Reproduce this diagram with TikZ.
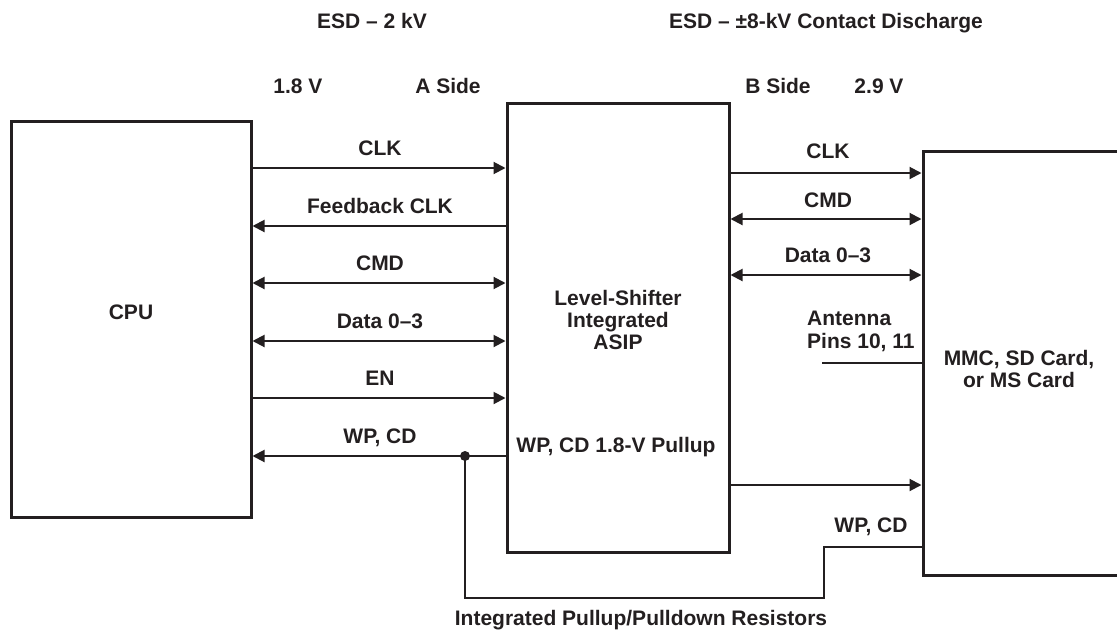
\documentclass[tikz,border=0pt]{standalone}
\usepackage{fontspec}
\setmainfont{Liberation Sans}
\usetikzlibrary{arrows.meta}
\definecolor{ink}{RGB}{35,31,32}
\tikzset{
  lbl/.style={font=\fontsize{21}{22}\selectfont\bfseries, inner sep=0pt, align=center, text=ink},
  box/.style={draw=ink, line width=3pt, inner sep=0pt, outer sep=1.5pt, rectangle},
  wire/.style={line width=2pt, draw=ink},
  arr/.style={wire, -{Triangle[length=12pt,width=12pt]}},
  darr/.style={wire, {Triangle[length=12pt,width=12pt]}-{Triangle[length=12pt,width=12pt]}},
}
\begin{document}
\begin{tikzpicture}[x=1pt,y=-1pt]
\useasboundingbox (0,0) rectangle (1117,630);
\clip (0,0) rectangle (1117,630);
% boxes
\node[box, minimum width=240pt, minimum height=396pt] (cpu) at (131,319) {};
\node[box, minimum width=222pt, minimum height=449pt] (ls) at (618,327.5) {};
\node[rectangle, inner sep=0pt, outer sep=0pt, minimum width=240pt, minimum height=424pt, anchor=north west] (card) at (923,151) {};
\draw[ink, line width=3pt] (card.north east) -- (card.north west) -- (card.south west) -- (card.south east);
% box texts
\node[lbl, anchor=base] (cput) at (131,319) {CPU};
\node[lbl, anchor=base] (ls1) at (618,305) {Level-Shifter};
\node[lbl, anchor=base] (ls2) at (618,327) {Integrated};
\node[lbl, anchor=base] (ls3) at (618,349) {ASIP};
\node[lbl, anchor=base] (lspu) at (616,452) {WP, CD 1.8-V Pullup};
\node[lbl, anchor=base] (card1) at (1019,365) {MMC, SD Card,};
\node[lbl, anchor=base] (card2) at (1019,387) {or MS Card};
% top labels
\node[lbl, anchor=base] (esda) at (372,28) {ESD – 2 kV};
\node[lbl, anchor=base] (esdb) at (826,28) {ESD – ±8-kV Contact Discharge};
\node[lbl, anchor=base] (va) at (298,93) {1.8 V};
\node[lbl, anchor=base] (sa) at (448,93) {A Side};
\node[lbl, anchor=base] (sb) at (778,93) {B Side};
\node[lbl, anchor=base] (vb) at (879,93) {2.9 V};
% left side connectors
\draw[arr] (cpu.east |- 0,168) -- (ls.west |- 0,168);
\node[lbl, anchor=base] (lclk) at (380,155) {CLK};
\draw[arr] (ls.west |- 0,226) -- (cpu.east |- 0,226);
\node[lbl, anchor=base] (lfb) at (380,213) {Feedback CLK};
\draw[darr] (cpu.east |- 0,283) -- (ls.west |- 0,283);
\node[lbl, anchor=base] (lcmd) at (380,270) {CMD};
\draw[darr] (cpu.east |- 0,341) -- (ls.west |- 0,341);
\node[lbl, anchor=base] (ldat) at (380,328) {Data 0–3};
\draw[arr] (cpu.east |- 0,398) -- (ls.west |- 0,398);
\node[lbl, anchor=base] (len) at (380,385) {EN};
\coordinate (dot) at (465,456);
\draw[arr] (ls.west |- dot) -- (cpu.east |- dot);
\fill[ink] (dot) circle (5pt);
\node[lbl, anchor=base] (lwp) at (380,443) {WP, CD};
% right side connectors
\draw[arr, shorten >=1.5pt] (ls.east |- 0,173) -- (card.west |- 0,173);
\node[lbl, anchor=base] (rclk) at (828,158) {CLK};
\draw[darr, shorten >=1.5pt] (ls.east |- 0,219) -- (card.west |- 0,219);
\node[lbl, anchor=base] (rcmd) at (828,207) {CMD};
\draw[darr, shorten >=1.5pt] (ls.east |- 0,275) -- (card.west |- 0,275);
\node[lbl, anchor=base] (rdat) at (828,262) {Data 0–3};
\node[lbl, anchor=base west] (ant1) at (807,325) {Antenna};
\node[lbl, anchor=base west] (ant2) at (807,348) {Pins 10, 11};
\coordinate (ant) at (822,363);
\draw[wire] (ant) -- (card.west |- ant);
\draw[arr, shorten >=1.5pt] (ls.east |- 0,485) -- (card.west |- 0,485);
% pullup / pulldown path
\coordinate (s1) at (824,598);
\draw[wire] (dot) |- (s1) |- (card.west |- 0,547);
\node[lbl, anchor=base] (rwp) at (871,532) {WP, CD};
\node[lbl, anchor=base] (res) at (641,625) {Integrated Pullup/Pulldown Resistors};
\end{tikzpicture}
\end{document}
